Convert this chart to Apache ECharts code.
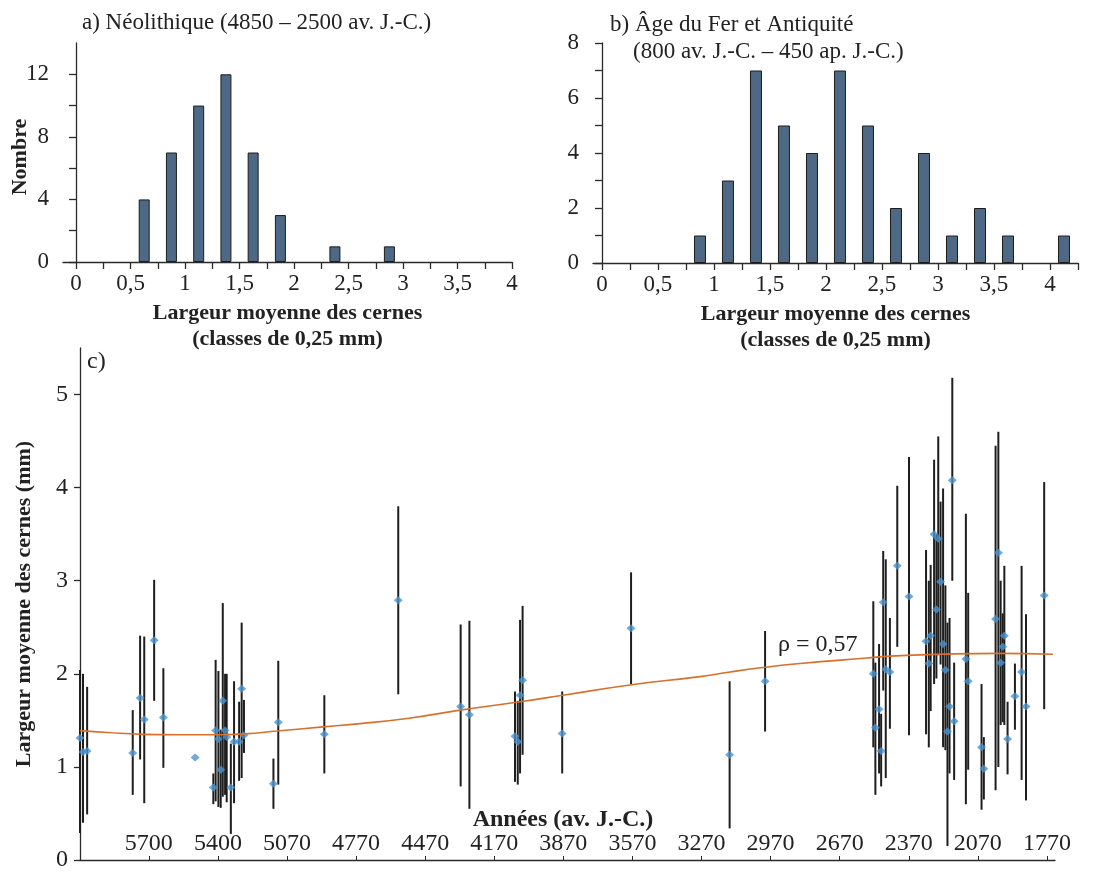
<!DOCTYPE html>
<html>
<head>
<meta charset="utf-8">
<script src="https://cdn.jsdelivr.net/npm/echarts@6/dist/echarts.min.js"></script>
<style>
	html, body { margin: 0; padding: 0; background: #fff; }
	#main { width: 1106px; height: 872px; }
</style>
</head>
<body>
<div id="main"></div>
<script>
// a) Néolithique : centres des classes de 0,25 mm et effectifs
const binsA = [0.625, 0.875, 1.125, 1.375, 1.625, 1.875, 2.375, 2.875];
const countsA = [4, 7, 10, 12, 7, 3, 1, 1];
// b) Âge du Fer et Antiquité
const binsB = [0.875, 1.125, 1.375, 1.625, 1.875, 2.125, 2.375, 2.625, 2.875, 3.125, 3.375, 3.625, 4.125];
const countsB = [1, 3, 7, 5, 4, 7, 5, 2, 4, 1, 2, 1, 1];

// c) largeur moyenne par site (point) et étendue (min - max)
const years = [5969, 5956, 5938, 5740, 5708, 5690, 5647, 5607, 5469,
	5390, 5380, 5368, 5358, 5349, 5339, 5332, 5314, 5300, 5278, 5267, 5257,
	5129, 5108, 4908, 4587, 4316, 4278, 4080, 4068, 4058, 4047, 3875, 3576, 3148, 2994,
	2524, 2515, 2499, 2490, 2481, 2470, 2452, 2420, 2369, 2295, 2283, 2275, 2260, 2250,
	2242, 2232, 2221, 2211, 2202, 2193, 2181, 2173, 2122, 2112,
	2054, 2044, 1993, 1981, 1971, 1962, 1955, 1941, 1909, 1880, 1861, 1782];
const means = [1.31, 1.16, 1.17, 1.15, 1.74, 1.51, 2.36, 1.53, 1.10,
	0.78, 1.39, 1.30, 0.97, 1.71, 1.39, 1.32, 0.78, 1.27, 1.27, 1.84, 1.34,
	0.82, 1.48, 1.35, 2.79, 1.65, 1.56, 1.33, 1.27, 1.77, 1.93, 1.36, 2.49, 1.13, 1.92,
	2.00, 1.42, 1.62, 1.17, 2.77, 2.05, 2.02, 3.16, 2.83, 2.35, 2.11, 2.41, 3.50, 2.69,
	3.45, 2.99, 2.32, 2.04, 1.38, 1.65, 4.08, 1.49, 2.16, 1.92,
	1.21, 0.98, 2.59, 3.30, 2.12, 2.29, 2.41, 1.30, 1.76, 2.02, 1.65, 2.84];
const lows = [0.29, 0.40, 0.49, 0.70, 1.08, 0.61, 1.71, 0.99, 1.10,
	0.60, 0.63, 0.57, 0.56, 0.68, 0.70, 0.62, 0.28, 0.61, 0.85, 0.88, 1.15,
	0.55, 0.81, 0.93, 1.78, 0.79, 0.55, 0.84, 0.81, 0.93, 1.13, 0.93, 1.89, 0.34, 1.38,
	1.21, 0.70, 0.93, 0.79, 1.82, 0.88, 1.41, 2.29, 1.34, 1.35, 1.21, 1.60, 1.89, 1.95,
	2.20, 2.10, 1.21, 1.18, 0.15, 0.93, 3.00, 0.86, 0.60, 0.97,
	0.54, 0.65, 0.75, 1.00, 1.45, 1.48, 1.45, 0.92, 1.40, 0.86, 0.64, 1.62];
const highs = [2.04, 2.00, 1.86, 1.61, 2.41, 2.40, 3.01, 2.06, 1.10,
	0.93, 2.15, 2.03, 1.40, 2.76, 2.00, 2.00, 1.25, 1.92, 1.70, 2.55, 1.72,
	1.09, 2.14, 1.77, 3.80, 2.53, 2.57, 1.81, 1.71, 2.58, 2.73, 1.81, 3.09, 1.92, 2.46,
	2.78, 2.12, 2.32, 1.57, 3.32, 3.23, 2.60, 4.02, 4.33, 3.33, 3.00, 3.17, 4.30, 3.50,
	4.55, 3.85, 3.99, 2.95, 2.55, 2.60, 5.18, 2.12, 3.72, 2.87,
	1.89, 1.32, 4.45, 4.60, 3.00, 2.65, 3.16, 1.70, 2.11, 3.16, 2.64, 4.06];

// courbe de tendance (orange)
const trendYears = [5969, 5850, 5700, 5550, 5400, 5257, 5113, 4914, 4753, 4549, 4319, 4058,
	3872, 3581, 3277, 3146, 2994, 2842, 2552, 2452, 2235, 1974, 1744];
const trendValues = [1.39, 1.37, 1.35, 1.345, 1.345, 1.355, 1.385, 1.43, 1.465, 1.52, 1.61, 1.70,
	1.77, 1.88, 1.97, 2.02, 2.07, 2.11, 2.17, 2.19, 2.21, 2.22, 2.21];

// graduations de l'axe des années
const yearTicks = [5670, 5370, 5070, 4770, 4470, 4170, 3870, 3570, 3270, 2970, 2670, 2370, 2070, 1770];
const yearLabels = ['5700', '5400', '5070', '4770', '4470', '4170', '3870', '3570', '3270', '2970', '2670', '2370', '2070', '1770'];

const FONT = '"Liberation Serif", "Times New Roman", serif';
const AXIS = '#2a2a2a';
const comma = v => String(v).replace('.', ',');
const range = (a, b, s) => { const r = []; for (let v = a; v <= b + 1e-9; v += s) r.push(+v.toFixed(2)); return r; };

const chart = echarts.init(document.getElementById('main'));

function histX(index, max, gridMin) {
	return {
		type: 'value', gridIndex: index, min: gridMin, max: max,
		axisLine: { lineStyle: { color: AXIS, width: 1.3 } },
		axisTick: { customValues: range(0, max, 0.25), length: 7, lineStyle: { color: AXIS, width: 1.3 } },
		axisLabel: { customValues: range(0, 4, 0.5), formatter: comma, margin: 10, fontSize: 23, color: '#222', fontFamily: FONT },
		splitLine: { show: false },
		name: 'Largeur moyenne des cernes\n(classes de 0,25 mm)',
		nameLocation: 'middle', nameGap: 38,
		nameTextStyle: { fontSize: 22, fontWeight: 'bold', color: '#222', fontFamily: FONT, lineHeight: 26 }
	};
}
function histY(index, max, ticks, labels) {
	return {
		type: 'value', gridIndex: index, min: 0, max: max,
		axisLine: { show: true, onZero: true, lineStyle: { color: AXIS, width: 1.3 } },
		axisTick: { show: true, customValues: ticks, length: 7, lineStyle: { color: AXIS, width: 1.3 } },
		axisLabel: { customValues: labels, margin: 14, fontSize: 23, color: '#222', fontFamily: FONT },
		splitLine: { show: false }
	};
}
const barStyle = { color: '#4e6985', borderColor: '#1c1c1c', borderWidth: 1 };

const option = {
	animation: false,
	textStyle: { fontFamily: FONT },
	grid: [
		{ left: 63, width: 449, top: 43, height: 219 },
		{ left: 593, width: 485, top: 43, height: 220 },
		{ left: 80, right: 51, top: 348, height: 516 }
	],
	xAxis: [
		histX(0, 4, -0.12),
		histX(1, 4.25, -0.08),
		{
			type: 'value', gridIndex: 2, inverse: true, min: 1735, max: 5969,
			axisLine: { onZero: false, lineStyle: { color: AXIS, width: 1.3 } },
			axisTick: { customValues: yearTicks, inside: true, length: 4, lineStyle: { color: AXIS } },
			axisLabel: {
				customValues: yearTicks, inside: true, margin: 4, fontSize: 24, color: '#222', fontFamily: FONT,
				formatter: v => yearLabels[yearTicks.indexOf(v)]
			},
			splitLine: { show: false }
		}
	],
	yAxis: [
		histY(0, 14, range(0, 12, 2), [0, 4, 8, 12]),
		histY(1, 8, range(0, 8, 1), [0, 2, 4, 6, 8]),
		{
			type: 'value', gridIndex: 2, min: 0, max: 5.5,
			axisLine: { show: true, onZero: false, lineStyle: { color: AXIS, width: 1.3 } },
			axisTick: { show: true, customValues: [0, 1, 2, 3, 4, 5], length: 6, lineStyle: { color: AXIS, width: 1.3 } },
			axisLabel: { customValues: [0, 1, 2, 3, 4, 5], margin: 12, fontSize: 24, color: '#222', fontFamily: FONT, padding: [4, 0, 0, 0] },
			splitLine: { show: false },
			name: 'Largeur moyenne des cernes (mm)', nameLocation: 'middle', nameGap: 45,
			nameTextStyle: { fontSize: 22, fontWeight: 'bold', color: '#222', fontFamily: FONT }
		}
	],
	series: [
		{
			type: 'bar', xAxisIndex: 0, yAxisIndex: 0, barWidth: 11, itemStyle: barStyle,
			data: binsA.map((b, i) => [b, countsA[i]])
		},
		{
			type: 'bar', xAxisIndex: 1, yAxisIndex: 1, barWidth: 12, itemStyle: barStyle,
			data: binsB.map((b, i) => [b, countsB[i]])
		},
		{
			// étendues (traits verticaux)
			type: 'custom', xAxisIndex: 2, yAxisIndex: 2,
			data: years.map((y, i) => [y, lows[i], highs[i]]),
			encode: { x: 0, y: [1, 2] },
			renderItem: function(params, api) {
				const lo = api.coord([api.value(0), api.value(1)]);
				const hi = api.coord([api.value(0), api.value(2)]);
				return {
					type: 'line',
					shape: { x1: lo[0], y1: lo[1], x2: hi[0], y2: hi[1] },
					style: { stroke: '#1e1e1e', lineWidth: 2 }
				};
			}
		},
		{
			type: 'line', xAxisIndex: 2, yAxisIndex: 2, smooth: true, showSymbol: false,
			lineStyle: { color: '#d8702a', width: 1.6 },
			data: trendYears.map((y, i) => [y, trendValues[i]])
		},
		{
			type: 'scatter', xAxisIndex: 2, yAxisIndex: 2, clip: false,
			symbol: 'diamond', symbolSize: [9, 8],
			itemStyle: { color: '#4b93d0' },
			data: years.map((y, i) => [y, means[i]])
		}
	],
	graphic: [
		{ type: 'text', x: 82, y: 23, style: { text: 'a) Néolithique (4850 – 2500 av. J.-C.)', font: '23px ' + FONT, fill: '#222', verticalAlign: 'middle' } },
		{ type: 'text', x: 610, y: 25, style: { text: 'b) Âge du Fer et Antiquité', font: '23px ' + FONT, fill: '#222', verticalAlign: 'middle' } },
		{ type: 'text', x: 633, y: 52, style: { text: '(800 av. J.-C. – 450 ap. J.-C.)', font: '23px ' + FONT, fill: '#222', verticalAlign: 'middle' } },
		{ type: 'text', x: 20, y: 157, rotation: Math.PI / 2, style: { text: 'Nombre', font: 'bold 22px ' + FONT, fill: '#222', align: 'center', verticalAlign: 'middle' } },
		{ type: 'text', x: 87, y: 362, style: { text: 'c)', font: '24px ' + FONT, fill: '#222', verticalAlign: 'middle' } },
		{ type: 'text', x: 778, y: 645, style: { text: 'ρ = 0,57', font: '24px ' + FONT, fill: '#222', verticalAlign: 'middle' } },
		{ type: 'text', x: 563, y: 820, style: { text: 'Années (av. J.-C.)', font: 'bold 24px ' + FONT, fill: '#222', align: 'center', verticalAlign: 'middle' } }
	]
};
chart.setOption(option);
</script>
</body>
</html>
